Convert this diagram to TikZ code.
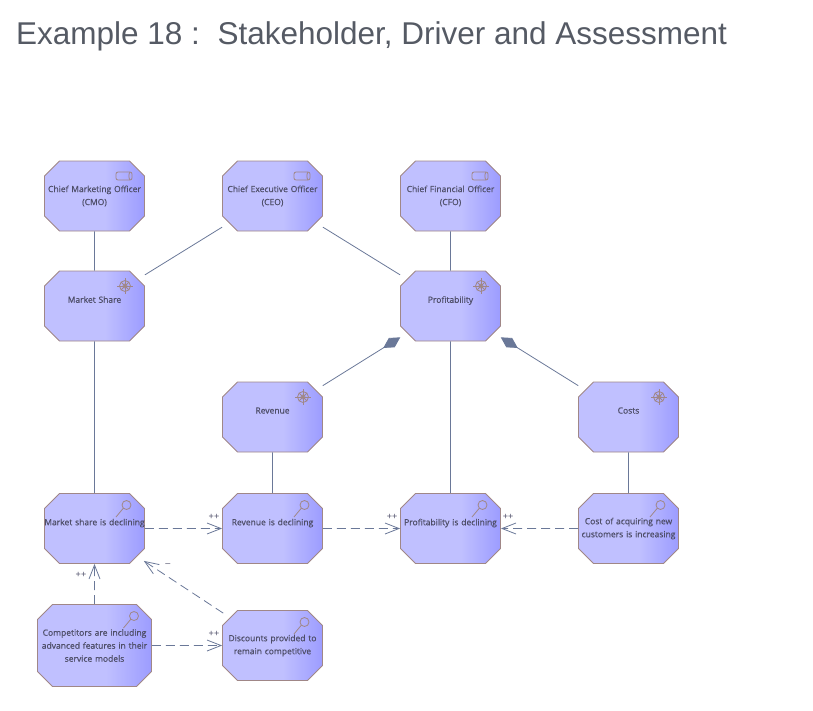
\documentclass[tikz,border=0pt]{standalone}
\usepackage{fontspec}
\setmainfont{Liberation Sans}
\newfontfamily\elemfont[FakeBold=0.5]{Open Sans}
\usetikzlibrary{arrows.meta,positioning,calc,shapes.misc}
\definecolor{elemlight}{RGB}{192,192,255}
\definecolor{elemdark}{RGB}{156,156,255}
\definecolor{elemline}{RGB}{160,135,135}
\definecolor{linkline}{RGB}{106,120,152}
\definecolor{inktext}{RGB}{78,78,104}
\definecolor{titletext}{RGB}{85,90,100}
\pgfdeclarehorizontalshading{elemshade}{100bp}{color(0bp)=(elemlight); color(55bp)=(elemlight); color(75bp)=(elemdark); color(100bp)=(elemdark)}

\begin{document}
\begin{tikzpicture}[x=1pt,y=-1pt,
  elem/.style={chamfered rectangle, chamfered rectangle xsep=5pt, chamfered rectangle ysep=10pt,
               draw=elemline, line width=0.8pt, shade, shading=elemshade, inner ysep=0pt, inner xsep=-5pt,
               minimum width=100pt, minimum height=70pt, text width=100pt, align=center,
               text=inktext, font=\elemfont\fontsize{8.5}{13}\selectfont},
  assoc/.style={draw=linkline, line width=0.8pt},
  slant/.style={shorten <=8pt, shorten >=8pt},
  agg/.style={assoc, slant, -{Diamond[length=20pt,width=11pt,fill=linkline]}},
  flow/.style={assoc, dash pattern=on 9pt off 5pt, -{Straight Barb[length=14pt,width=11pt]}},
  sign/.style={font=\fontsize{9}{10}\selectfont, text=inktext, inner sep=0pt},
  icon/.style={draw=elemline, line width=0.8pt},
  pics/roleicon/.style={code={
    \draw[icon, rounded corners=2pt] (-8,-4) rectangle (8,4);
    \draw[icon] (6,-4) .. controls (4.5,-2) and (4.5,2) .. (6,4);
  }},
  pics/drivericon/.style={code={
    \draw[icon] (0,0) circle (5.5);
    \draw[icon] (0,0) circle (2);
    \foreach \a in {0,90,180,270} \draw[icon] (0,0) -- (\a:8);
    \foreach \a in {45,135,225,315} \draw[icon] (0,0) -- (\a:5.5);
  }},
  pics/assessicon/.style={code={
    \draw[icon] (0,0) circle (4.5);
    \draw[icon] (-3.2,3.2) -- (-10.5,12);
  }}
]
% top row
\node[elem] (cmo) at (94.5,196) {Chief Marketing Officer\\(CMO)};
\node[elem] (ceo) at (272.5,196) {Chief Executive Officer\\(CEO)};
\node[elem] (cfo) at (450.5,196) {Chief Financial Officer\\(CFO)};
% drivers
\node[elem] (share) at (94.5,306) {Market Share\\~};
\node[elem] (profit) at (450.5,306) {Profitability\\~};
\node[elem] (revenue) at (272.5,417) {Revenue\\~};
\node[elem] (costs) at (628.5,417) {Costs\\~};
% assessments
\node[elem] (sharedown) at (94.5,528.5) {\makebox[100pt]{Market share is declining}\\~};
\node[elem] (revdown) at (272.5,528.5) {Revenue is declining\\~};
\node[elem] (profdown) at (450.5,528.5) {Profitability is declining\\~};
\node[elem] (costup) at (628.5,528.5) {Cost of acquiring new\\customers is increasing};
\node[elem, minimum width=114pt, minimum height=82pt, text width=114pt] (rivals) at (94.5,645.5)
  {Competitors are including\\advanced features in their\\service models};
\node[elem] (discounts) at (272.5,645.5) {Discounts provided to\\remain competitive};
% icons
\pic at (124,176) {roleicon};
\pic at (302,176) {roleicon};
\pic at (480,176) {roleicon};
\pic at (125,286) {drivericon};
\pic at (481,286) {drivericon};
\pic at (303,397) {drivericon};
\pic at (659,397) {drivericon};
\pic at (126.5,505) {assessicon};
\pic at (304.5,505) {assessicon};
\pic at (482.5,505) {assessicon};
\pic at (660.5,505) {assessicon};
\pic at (134,616) {assessicon};
\pic at (304.5,622) {assessicon};
% associations
\draw[assoc] (cmo) -- (share);
\draw[assoc, slant] (ceo) -- (share);
\draw[assoc, slant] (ceo) -- (profit);
\draw[assoc] (cfo) -- (profit);
\draw[assoc] (share) -- (sharedown);
\draw[assoc] (revenue) -- (revdown);
\draw[assoc] (profit) -- (profdown);
\draw[assoc] (costs) -- (costup);
\draw[agg] (revenue) -- (profit);
\draw[agg] (costs) -- (profit);
% influences
\draw[flow] (sharedown) -- (revdown);
\draw[flow] (revdown) -- (profdown);
\draw[flow] (costup) -- (profdown);
\draw[flow] (rivals) -- (sharedown);
\draw[flow] (rivals) -- (discounts);
\draw[flow, slant] (discounts) -- (sharedown);
\node[sign] (s1) at (214,517) {++};
\node[sign] (s2) at (392,517) {++};
\node[sign] (s3) at (508,517) {++};
\node[sign] (s4) at (81,575) {++};
\node[sign] (s5) at (214,634) {++};
\node[sign] (s6) at (168,565) {--};
% title
\node[anchor=base west, inner sep=0pt, text=titletext, font=\fontsize{31.5}{36}\selectfont] (title) at (16,44)
  {Example 18 :~~Stakeholder, Driver and Assessment};
\useasboundingbox (0,0) rectangle (813,710);
\end{tikzpicture}
\end{document}
